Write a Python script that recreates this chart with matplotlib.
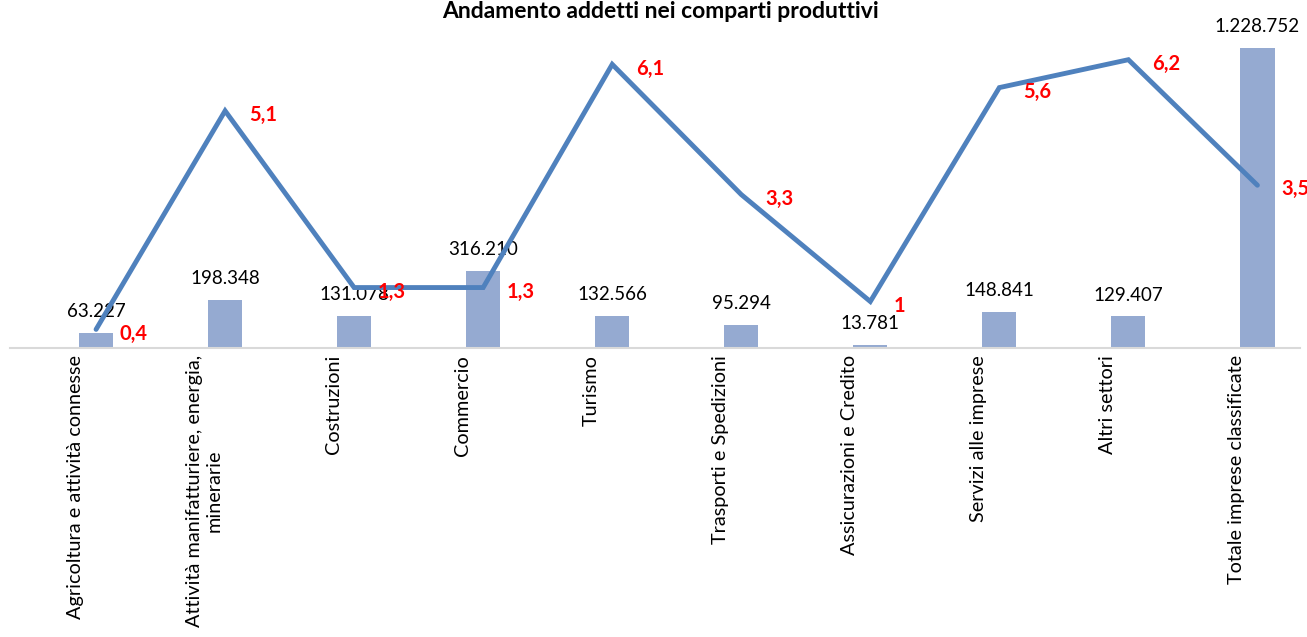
import matplotlib
matplotlib.use('Agg')
import matplotlib.pyplot as plt
import matplotlib.transforms as mtransforms
import numpy as np

plt.rcParams['font.family'] = ['Lato', 'DejaVu Sans']

categorie = ['Agricoltura e attività connesse',
             'Attività manifatturiere, energia,\nminerarie',
             'Costruzioni',
             'Commercio',
             'Turismo',
             'Trasporti e Spedizioni',
             'Assicurazioni e Credito',
             'Servizi alle imprese',
             'Altri settori',
             'Totale imprese classificate']
addetti = [63227, 198348, 131078, 316210, 132566, 95294, 13781, 148841, 129407, 1228752]
variazione = [0.4, 5.1, 1.3, 1.3, 6.1, 3.3, 1.0, 5.6, 6.2, 3.5]


def fmt_it(v):
    return f'{v:,}'.replace(',', '.')


def fmt_var(v):
    s = f'{v:.1f}'.replace('.', ',')
    return s[:-2] if s.endswith(',0') else s


W, H = 1307, 637
fig = plt.figure(figsize=(W / 100, H / 100), dpi=100)
ax = fig.add_axes([10 / W, (H - 348) / H, 1290 / W, 326 / H])
x = np.arange(len(categorie))

ax.bar(x, addetti, width=0.265, color='#95AAD1', zorder=2)
ax.set_ylim(0, 1228752 * 326 / 300)
ax.set_xlim(-0.667, 9.33)
for s in ['top', 'right', 'left']:
    ax.spines[s].set_visible(False)
ax.spines['bottom'].set_color('#D9D9D9')
ax.spines['bottom'].set_linewidth(1.5)
ax.set_yticks([])
ax.set_xticks(x)
ax.set_xticklabels(categorie, rotation=90, fontsize=14.3, ha='center', va='top',
                   multialignment='center')
ax.tick_params(axis='x', length=0, pad=5)
# etichette spostate a sinistra come in Excel
shift = mtransforms.ScaledTranslation(-21 / 100, 0, fig.dpi_scale_trans)
for lab in ax.get_xticklabels():
    lab.set_transform(lab.get_transform() + shift)

for xi, v in zip(x, addetti):
    ax.annotate(fmt_it(v), (xi, v), xytext=(0, 9), textcoords='offset points',
                ha='center', va='bottom', fontsize=13.5, color='black', zorder=5)

ax2 = ax.twinx()
ax2.set_ylim(0, 326 / 46.5)
ax2.axis('off')
ax2.plot(x, variazione, color='#4F81BD', lw=3.5, solid_capstyle='round',
         solid_joinstyle='miter', zorder=3)

for xi, v in zip(x, variazione):
    ax2.annotate(fmt_var(v), (xi, v), xytext=(17, -3), textcoords='offset points',
                 ha='left', va='center', fontsize=14.5, fontweight='bold', color='red')

fig.text(660 / W, 1 - 12 / H, 'Andamento addetti nei comparti produttivi',
         ha='center', va='center', fontsize=16.5, fontweight='bold')

fig.savefig('out.png', dpi=100)
